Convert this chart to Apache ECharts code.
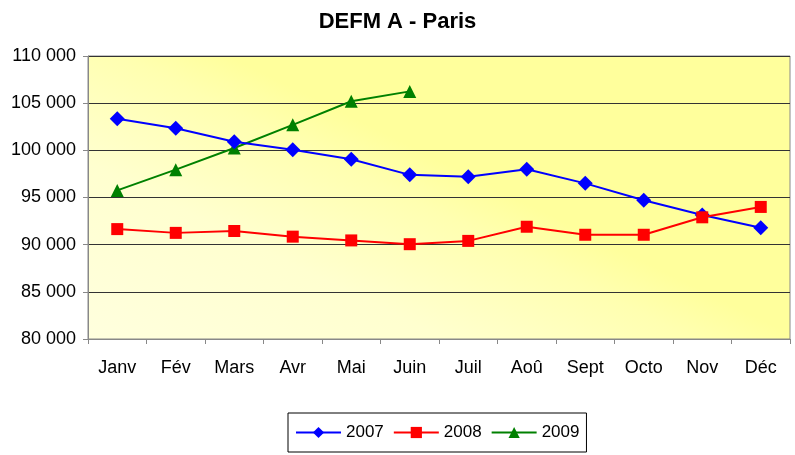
<!DOCTYPE html>
<html>
<head>
<meta charset="utf-8">
<script src="https://cdn.jsdelivr.net/npm/echarts@6/dist/echarts.min.js"></script>
<style>
  html, body { margin: 0; padding: 0; background: #fff; }
</style>
</head>
<body>
<div id="chart" style="width: 795px; height: 455px;"></div>
<script>
const months = ['Janv', 'Fév', 'Mars', 'Avr', 'Mai', 'Juin', 'Juil', 'Aoû', 'Sept', 'Octo', 'Nov', 'Déc']
const data2007 = [103350, 102350, 100900, 100050, 99050, 97400, 97200, 98000, 96500, 94700, 93150, 91800]
const data2008 = [91650, 91250, 91450, 90850, 90450, 90050, 90400, 91900, 91050, 91050, 92900, 94000]
const data2009 = [95750, 97950, 100250, 102700, 105200, 106250]

const chart = echarts.init(document.getElementById('chart'))

// libellés façon Excel : 110 000
function fmt(v) {
  return String(v).replace(/\B(?=(\d{3})+(?!\d))/g, ' ')
}

chart.setOption({
  animation: false,
  textStyle: { fontFamily: 'Liberation Sans' },
  title: {
    text: 'DEFM A - Paris',
    left: 'center',
    top: 6,
    textStyle: { fontSize: 22, fontWeight: 'bold', color: '#000', fontFamily: 'Liberation Sans' }
  },
  grid: {
    left: 88,
    right: 5,
    top: 56,
    bottom: 116,
    show: true,
    borderColor: '#888',
    borderWidth: 1,
    // dégradé jaune, plus pâle en bas à gauche
    backgroundColor: {
      type: 'linear', x: 0, y: 1, x2: 0.2, y2: 0,
      colorStops: [
        { offset: 0, color: '#ffffde' },
        { offset: 0.5, color: '#ffffcf' },
        { offset: 0.85, color: '#ffffb0' },
        { offset: 1, color: '#ffff9c' }
      ]
    }
  },
  legend: {
    left: 288,
    top: 413,
    padding: [11, 7, 11, 7],
    borderColor: '#000',
    borderWidth: 1,
    itemGap: 9,
    itemWidth: 45,
    itemHeight: 14,
    textStyle: { fontSize: 17, color: '#000', fontFamily: 'Liberation Sans' },
    data: ['2007', '2008', '2009']
  },
  xAxis: {
    type: 'category',
    data: months,
    boundaryGap: true,
    axisLine: { lineStyle: { color: '#888', width: 1 } },
    axisTick: { show: true, length: 5, lineStyle: { color: '#888' } },
    axisLabel: { fontSize: 18, color: '#000', margin: 20 }
  },
  yAxis: {
    type: 'value',
    min: 80000,
    max: 110000,
    interval: 5000,
    axisLine: { show: true, lineStyle: { color: '#888', width: 1 } },
    axisTick: { show: true, length: 5, lineStyle: { color: '#888' } },
    axisLabel: { fontSize: 18, color: '#000', margin: 12, formatter: fmt },
    splitLine: { show: true, lineStyle: { color: '#333', width: 1 } }
  },
  series: [
    {
      name: '2007',
      type: 'line',
      data: data2007,
      symbol: 'diamond',
      symbolSize: 15,
      lineStyle: { color: '#0000ff', width: 2 },
      itemStyle: { color: '#0000ff' },
      z: 3
    },
    {
      name: '2008',
      type: 'line',
      data: data2008,
      symbol: 'rect',
      symbolSize: 12,
      lineStyle: { color: '#ff0000', width: 2 },
      itemStyle: { color: '#ff0000' },
      z: 4
    },
    {
      name: '2009',
      type: 'line',
      data: data2009,
      symbol: 'triangle',
      symbolSize: 13,
      lineStyle: { color: '#008000', width: 2 },
      itemStyle: { color: '#008000' },
      z: 2
    }
  ]
})
</script>
</body>
</html>
